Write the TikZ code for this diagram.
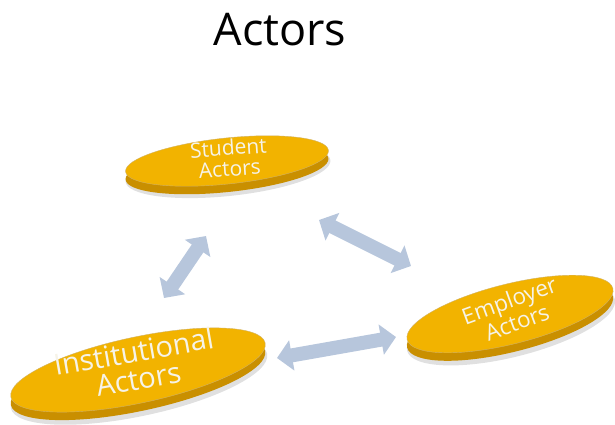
\documentclass[tikz,border=0pt]{standalone}
\usepackage{fontspec}
\setmainfont{Open Sans}
\usetikzlibrary{shapes.geometric,arrows.meta}
\definecolor{diskTop}{HTML}{F2B300}
\definecolor{diskRim}{HTML}{C98F00}
\definecolor{diskEdge}{HTML}{B07E00}
\definecolor{arrowBlue}{HTML}{B7C6DC}
\definecolor{labelInk}{HTML}{F6F3E8}
\tikzset{
  disk/.style={ellipse, fill=diskTop, draw=diskEdge!60, line width=0.4pt, inner sep=0pt},
  rim/.style={ellipse, fill=diskRim, inner sep=0pt},
  shade/.style={ellipse, fill=black!12, inner sep=0pt},
  lbl/.style={text=labelInk, align=center, inner sep=0pt},
  link/.style={draw=arrowBlue, line width=14pt,
    {Triangle[width=30pt,length=15pt]}-{Triangle[width=30pt,length=15pt]}},
}
\begin{document}
\begin{tikzpicture}[x=1pt,y=-1pt]
\useasboundingbox (0,0) rectangle (615,425);
\node[font={\fontsize{45}{48}\selectfont}] (title) at (280,30) {Actors};

% Student disk
\node[shade, minimum width=206pt, minimum height=50pt, rotate=6] (studentShade) at (228,171) {};
\node[rim, minimum width=204pt, minimum height=46pt, rotate=6] (studentRim) at (227,169) {};
\node[disk, minimum width=204pt, minimum height=46pt, rotate=6] (student) at (227,161) {};
\node[lbl, rotate=4, font={\fontsize{21}{21}\selectfont}] (studentText) at (229,158) {Student\\Actors};

% Employer disk
\node[shade, minimum width=214pt, minimum height=64pt, rotate=14] (employerShade) at (511,325) {};
\node[rim, minimum width=212pt, minimum height=60pt, rotate=14] (employerRim) at (510,322) {};
\node[disk, minimum width=212pt, minimum height=60pt, rotate=14] (employer) at (510,314) {};
\node[lbl, rotate=20, font={\fontsize{22.5}{23}\selectfont}] (employerText) at (513,311) {Employer\\Actors};

% Institutional disk
\node[shade, minimum width=262pt, minimum height=70pt, rotate=12] (instShade) at (139,381) {};
\node[rim, minimum width=260pt, minimum height=66pt, rotate=12] (instRim) at (138,378) {};
\node[disk, minimum width=260pt, minimum height=66pt, rotate=12] (inst) at (138,370) {};
\node[lbl, rotate=10, font={\fontsize{29}{28}\selectfont}] (instText) at (136,365) {Institutional\\Actors};

% arrow ends
\coordinate (sa) at (206,236);
\coordinate (ia) at (164,298);
\coordinate (sb) at (319,220);
\coordinate (eb) at (411,266);
\coordinate (ic) at (277,358);
\coordinate (ec) at (396,337);

\draw[link] (sa) -- (ia);
\draw[link] (sb) -- (eb);
\draw[link] (ic) -- (ec);
\end{tikzpicture}
\end{document}
